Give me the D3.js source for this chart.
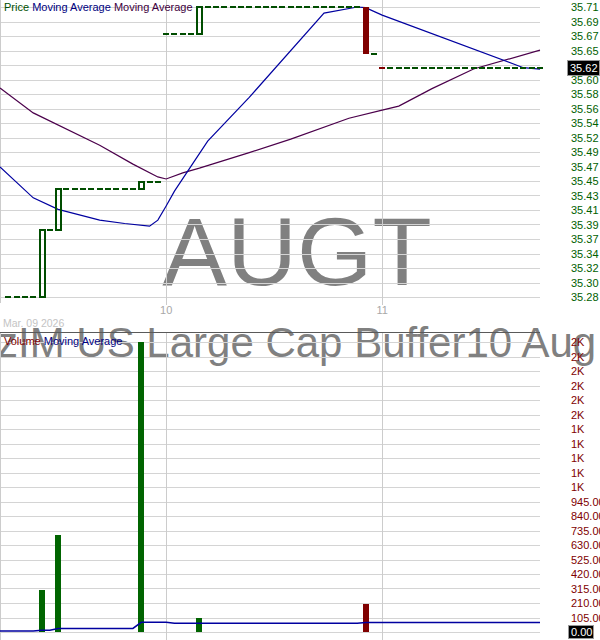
<!DOCTYPE html>
<html><head><meta charset="utf-8">
<script src="https://cdn.jsdelivr.net/npm/d3@7"></script>
<style>
body{margin:0;background:#fff}
svg{display:block;font-family:"Liberation Sans",Arial,sans-serif}
</style>
</head><body>
<svg id="c" width="600" height="640"></svg>
<script>
// ---------- data ----------
const symbol = "AUGT";
const fundName = "AllianzIM US Large Cap Buffer10 Aug ETF";
const dateLabel = "Mar. 09 2026";
// 15-minute bars, index 0 = first bar of day 10
const barIdx = [-19,-18,-17,-16,-15,-14,-13,-12,-11,-10,-9,-8,-7,-6,-5,-4,-3,-2,-1,
  0,1,2,3,4,5,6,7,8,9,10,11,12,13,14,15,16,17,18,19,20,21,22,23,24,25,
  26,27,28,29,30,31,32,33,34,35,36,37,38,39,40,41,42,43,44,45];
const opens = [35.28,35.28,35.28,35.28,35.28,35.38,35.38,35.44,35.44,35.44,35.44,35.44,35.44,35.44,35.44,35.44,35.44,35.45,35.45,
  35.67,35.67,35.67,35.67,35.67,35.71,35.71,35.71,35.71,35.71,35.71,35.71,35.71,35.71,35.71,35.71,35.71,35.71,35.71,35.71,35.71,35.71,35.71,35.71,35.71,35.64,
  35.62,35.62,35.62,35.62,35.62,35.62,35.62,35.62,35.62,35.62,35.62,35.62,35.62,35.62,35.62,35.62,35.62,35.62,35.62,35.62];
const closes = [35.28,35.28,35.28,35.28,35.38,35.38,35.44,35.44,35.44,35.44,35.44,35.44,35.44,35.44,35.44,35.44,35.45,35.45,35.45,
  35.67,35.67,35.67,35.67,35.71,35.71,35.71,35.71,35.71,35.71,35.71,35.71,35.71,35.71,35.71,35.71,35.71,35.71,35.71,35.71,35.71,35.71,35.71,35.71,35.64,35.64,
  35.62,35.62,35.62,35.62,35.62,35.62,35.62,35.62,35.62,35.62,35.62,35.62,35.62,35.62,35.62,35.62,35.62,35.62,35.62,35.62];
const volumes = [0,0,0,0,304,0,702,0,0,0,0,0,0,0,0,0,2100,0,0,
  0,0,0,0,101,0,0,0,0,0,0,0,0,0,0,0,0,0,0,0,0,0,0,0,203,0,
  0,0,0,0,0,0,0,0,0,0,0,0,0,0,0,0,0,0,0,0];
// moving averages: [bar index, value]
const maFast = [[-20,35.473],[-16,35.427],[-13,35.410],[-8,35.394],[-5,35.389],[-2,35.385],[-1,35.394],
  [0,35.415],[1,35.437],[3,35.474],[5,35.511],[10,35.576],[19,35.701],[23,35.710],[24,35.709],[26,35.698],[43,35.620],[45,35.618]];
const maSlow = [[-20,35.590],[-16,35.553],[-8,35.505],[-4,35.477],[-1,35.458],[0,35.455],[2,35.464],[4,35.471],
  [10,35.494],[15,35.514],[22,35.545],[26,35.557],[28,35.563],[32,35.589],[37,35.618],[45,35.646]];
const volMA = [[-20,7],[-16,7],[-15,12],[-14,12],[-13,26],[-4,26],[-3,70],[0,70],[1,64],[23,64],[24,69],[45,69]];
// axes
const dayTicks = [0,26];
const dayLabels = ["10","11"];
const priceTicks = [35.280,35.3015,35.323,35.3445,35.366,35.3875,35.409,35.4305,35.452,35.4735,35.495,
  35.5165,35.538,35.5595,35.581,35.6025,35.624,35.6455,35.667,35.6885,35.710];
const priceTickLabels = ["35.28","35.30","35.32","35.34","35.37","35.39","35.41","35.43","35.45","35.47","35.49",
  "35.52","35.54","35.56","35.58","35.60","35.62","35.65","35.67","35.69","35.71"];
const volTicks = [0,105,210,315,420,525,630,735,840,945,1050,1155,1260,1365,1470,1575,1680,1785,1890,1995,2100];
const volTickLabels = ["0.00","105.00","210.00","315.00","420.00","525.00","630.00","735.00","840.00","945.00",
  "1K","1K","1K","1K","1K","2K","2K","2K","2K","2K","2K"];
const lastPrice = 35.62, lastPriceLabel = "35.62";
const lastVol = 0, lastVolLabel = "0.00";

// ---------- colours ----------
const GREEN = "#004d00", VGREEN = "#006400", RED = "#800000";
const BLUE = "#0000a0", PURPLE = "#4b004b", GRID = "#d4d4d4";

const svg = d3.select("#c");
const x = d3.scaleLinear().domain([-20,45]).range([0,540]);
const yP = d3.scaleLinear().domain([35.28,35.71]).range([297,7]);
const yV = d3.scaleLinear().domain([0,2100]).range([632,342]);

// ---------- watermarks ----------
svg.append("text").attr("x",297).attr("y",285).attr("text-anchor","middle")
  .attr("font-size",97).attr("fill","#808080").text(symbol);
const meas = svg.append("text").attr("font-size",42).text("Allian");
const wPre = meas.node().getComputedTextLength(); meas.remove();
svg.append("text").attr("x",-3 - wPre).attr("y",357).attr("font-size",42)
  .attr("fill","#808080").text(fundName);

// ---------- grids ----------
const g = svg.append("g").attr("shape-rendering","crispEdges");
g.selectAll(".hp").data(priceTicks).join("line")
  .attr("x1",0).attr("x2",540).attr("y1",d=>Math.round(yP(d))+0.5).attr("y2",d=>Math.round(yP(d))+0.5)
  .attr("stroke",GRID);
g.selectAll(".hv").data(volTicks).join("line")
  .attr("x1",0).attr("x2",540).attr("y1",d=>Math.round(yV(d))+0.5).attr("y2",d=>Math.round(yV(d))+0.5)
  .attr("stroke",GRID);
g.selectAll(".vp").data(dayTicks).join("line")
  .attr("x1",d=>Math.round(x(d))+0.5).attr("x2",d=>Math.round(x(d))+0.5).attr("y1",0).attr("y2",305)
  .attr("stroke","#cccccc");
g.selectAll(".vv").data(dayTicks).join("line")
  .attr("x1",d=>Math.round(x(d))+0.5).attr("x2",d=>Math.round(x(d))+0.5).attr("y1",332).attr("y2",640)
  .attr("stroke","#cccccc");
g.append("line").attr("x1",0.5).attr("x2",0.5).attr("y1",0).attr("y2",303).attr("stroke","#cccccc");
g.append("line").attr("x1",0.5).attr("x2",0.5).attr("y1",332).attr("y2",640).attr("stroke","#cccccc");
g.append("line").attr("x1",0).attr("x2",540).attr("y1",332.5).attr("y2",332.5).attr("stroke","#5a5a5a");

// ---------- x labels ----------
svg.selectAll(".dl").data(dayTicks).join("text")
  .attr("x",d=>x(d)).attr("y",314).attr("text-anchor","middle").attr("font-size",11)
  .attr("fill","#a8a8a8").text((d,i)=>dayLabels[i]);
svg.append("text").attr("x",3).attr("y",327).attr("font-size",10.5).attr("fill","#c4c4c4").text(dateLabel);

// ---------- moving averages (price) ----------
const line = d3.line().x(d=>x(d[0])).y(d=>yP(d[1]));
svg.append("path").attr("d",line(maSlow)).attr("fill","none").attr("stroke",PURPLE).attr("stroke-width",1.2);
svg.append("path").attr("d",line(maFast)).attr("fill","none").attr("stroke",BLUE).attr("stroke-width",1.2);

// ---------- candles ----------
const bars = barIdx.map((b,i)=>({b, o:opens[i], c:closes[i], v:volumes[i], pc: i>0?closes[i-1]:opens[i]}));
const cg = svg.append("g").attr("shape-rendering","crispEdges");
bars.forEach(d=>{
  const cx = Math.round(x(d.b));
  const col = d.c < d.pc ? RED : GREEN;
  if (d.o === d.c) {
    const yy = Math.round(yP(d.c));
    cg.append("rect").attr("x",cx-3).attr("y",yy-1).attr("width",6).attr("height",2).attr("fill",col);
  } else if (d.c > d.o) {
    const y1 = Math.round(yP(d.c)), y0 = Math.round(yP(d.o));
    cg.append("rect").attr("x",cx-2).attr("y",y1).attr("width",5).attr("height",y0-y1)
      .attr("fill","none").attr("stroke",col).attr("stroke-width",2);
  } else {
    const y1 = Math.round(yP(d.o)), y0 = Math.round(yP(d.c));
    cg.append("rect").attr("x",cx-3).attr("y",y1).attr("width",6).attr("height",y0-y1).attr("fill",RED);
  }
});

// ---------- volume bars ----------
svg.append("g").attr("shape-rendering","crispEdges").selectAll("rect").data(bars.filter(d=>d.v>0)).join("rect")
  .attr("x",d=>Math.round(x(d.b))-3).attr("width",6)
  .attr("y",d=>yV(d.v)).attr("height",d=>yV(0)-yV(d.v))
  .attr("fill",d=>d.c < d.pc ? RED : VGREEN);
const vline = d3.line().x(d=>x(d[0])).y(d=>yV(d[1]));
svg.append("path").attr("d",vline(volMA)).attr("fill","none").attr("stroke",BLUE).attr("stroke-width",1.5);

// ---------- right labels ----------
svg.selectAll(".pl").data(priceTicks).join("text")
  .attr("x",571).attr("y",d=>yP(d)+4).attr("font-size",11).attr("fill","#006000")
  .text((d,i)=>priceTickLabels[i]);
svg.selectAll(".vl").data(volTicks).join("text")
  .attr("x",571).attr("y",d=>yV(d)+4).attr("font-size",11).attr("fill",RED)
  .text((d,i)=>volTickLabels[i]);
// last value boxes
const yl = Math.round(yP(lastPrice));
svg.append("rect").attr("x",567.5).attr("y",yl-7.5).attr("width",32).attr("height",15)
  .attr("fill","#000").attr("stroke","#999");
svg.append("text").attr("x",570).attr("y",yl+4).attr("font-size",11).attr("fill","#fff").text(lastPriceLabel);
const yv = Math.round(yV(lastVol));
svg.append("rect").attr("x",568.5).attr("y",yv-6.5).attr("width",25).attr("height",13)
  .attr("fill","#000").attr("stroke","#999");
svg.append("text").attr("x",571).attr("y",yv+4).attr("font-size",11).attr("fill","#fff").text(lastVolLabel);

// ---------- legends ----------
const lg = svg.append("text").attr("x",4).attr("y",11).attr("font-size",11);
lg.append("tspan").attr("fill","#005000").text("Price ");
lg.append("tspan").attr("fill","#000080").text("Moving Average ");
lg.append("tspan").attr("fill","#400040").text("Moving Average");
const vlg = svg.append("text").attr("x",4).attr("y",345).attr("font-size",11);
vlg.append("tspan").attr("fill",RED).text("Volume ");
vlg.append("tspan").attr("fill","#000080").text("Moving Average");
</script>
</body></html>
